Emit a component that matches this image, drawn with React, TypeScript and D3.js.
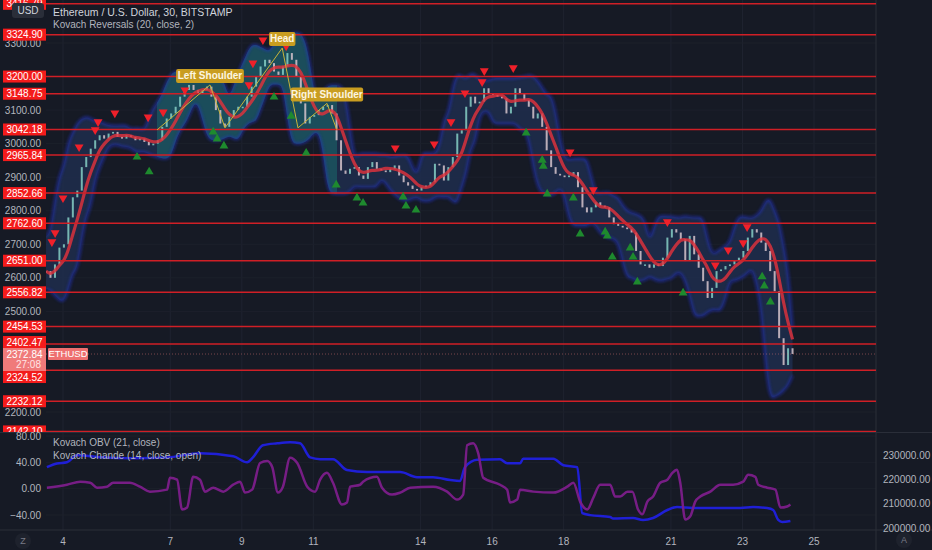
import * as d3 from 'd3'
import { FC } from 'react'

const WIDTH = 932
const HEIGHT = 550
const PLOT = { left: 46, right: 876, mainBottom: 432, paneTop: 433, paneBottom: 530 }
const FONT = '"Liberation Sans", Arial, sans-serif'
const BG = '#161a25'
const TEXT = '#b2b5be'

// 3-hour closes, starting at START_DAY
const START_DAY = 3.525
const STEP_DAY = 0.125
const closes = [
  2620, 2600, 2640, 2690, 2700, 2780, 2840, 2860, 2930, 2960,
  2985, 3010, 3025, 3015, 3030, 3035, 3020, 3015, 3025, 3020,
  3010, 3015, 3005, 2995, 3000, 3010, 3050, 3075, 3090, 3110,
  3140, 3160, 3175, 3160, 3150, 3160, 3170, 3140, 3100, 3060,
  3050, 3080, 3100, 3110, 3110, 3140, 3170, 3200, 3230, 3250,
  3240, 3215, 3205, 3230, 3270, 3250, 3200, 3120, 3060, 3080,
  3085, 3100, 3110, 3115, 3090, 3010, 2920, 2910, 2925, 2930,
  2905, 2895, 2930, 2945, 2925, 2920, 2915, 2925, 2935, 2905,
  2885, 2875, 2865, 2860, 2870, 2875, 2885, 2940, 2935, 2890,
  2930, 2960, 3030, 3040, 3110, 3140, 3120, 3125, 3165, 3150,
  3145, 3140, 3135, 3090, 3110, 3165, 3150, 3130, 3110, 3075,
  3090, 3050, 2980, 2930, 2910, 2905, 2900, 2905, 2915, 2870,
  2810, 2795, 2810, 2825, 2815, 2810, 2780, 2760, 2755, 2750,
  2745, 2735, 2680, 2640, 2640, 2630, 2640, 2635, 2660, 2720,
  2745, 2735, 2715, 2650, 2725, 2670, 2630, 2590, 2540, 2570,
  2620, 2625, 2635, 2640, 2650, 2660, 2680, 2720, 2745, 2735,
  2705, 2680, 2620, 2560, 2420, 2340, 2390, 2373,
]
const lastPrice = 2372.84

const levelPrices = [
  3416.79, 3324.9, 3200.0, 3148.75, 3042.18, 2965.84, 2852.66, 2762.6,
  2651.0, 2556.82, 2454.53, 2402.47, 2324.52, 2232.12, 2142.1,
]
const priceTicks = [3300, 3100, 3000, 2900, 2800, 2700, 2600, 2500, 2200]
const dayTicks = [4, 7, 9, 11, 14, 16, 18, 21, 23, 25]

// Kovach Reversals markers [day, price]
const downMarks: [number, number][] = [
  [3.69, 2707], [3.78, 2734], [4.0, 2838], [4.45, 2990], [4.9, 3041],
  [4.98, 3065], [5.45, 3091], [6.38, 3079], [6.8, 3094], [7.41, 3160],
  [9.2, 3175], [9.31, 3240], [9.59, 3309], [10.24, 3291], [13.29, 2987],
  [14.38, 2999], [14.85, 3065], [15.24, 3151], [15.72, 3184], [15.78, 3217],
  [16.59, 3226], [18.18, 2975], [18.83, 2862], [20.9, 2767], [22.24, 2638],
  [22.6, 2683], [23.02, 2704], [23.13, 2752],
]
const upMarks: [number, number][] = [
  [6.07, 2960], [6.41, 2916], [8.2, 3035], [8.31, 3014], [8.5, 2993],
  [9.9, 3139], [10.38, 3082], [10.8, 2972], [11.64, 2877], [12.22, 2838],
  [12.39, 2823], [13.51, 2841], [13.59, 2814], [13.87, 2802], [16.95, 3032],
  [17.4, 2951], [17.43, 2933], [17.54, 2850], [18.27, 2838], [18.46, 2731],
  [19.16, 2737], [19.22, 2725], [19.36, 2662], [19.86, 2689], [19.94, 2662],
  [20.06, 2588], [21.34, 2555], [23.55, 2603], [23.61, 2576], [23.78, 2528],
]

// head & shoulders zigzag
const patternPoints: [number, number][] = [
  [6.63, 3041], [8.11, 3175], [8.53, 3047], [10.13, 3285],
  [10.57, 3047], [11.38, 3120], [11.66, 3041],
]
const patternLabels = [
  { at: 1, text: 'Left Shoulder' },
  { at: 3, text: 'Head' },
  { at: 5, text: 'Right Shoulder' },
]

// lower pane
const obvTicks = [230000, 220000, 210000, 200000]
const chandeTicks = [80, 40, 0, -40]
const obv: [number, number][] = [
  [3.55, 225000], [3.83, 226500], [4.11, 227000], [4.39, 229900], [5.03, 229100],
  [5.96, 228700], [6.91, 229000], [7.83, 230700], [8.76, 229500], [9.15, 227000],
  [9.31, 229000], [9.59, 234000], [9.99, 234800], [10.35, 235200], [10.63, 234800],
  [10.91, 229000], [11.19, 228300], [11.55, 228300], [11.94, 223800], [12.5, 223000],
  [13.43, 223000], [13.9, 220900], [14.35, 220900], [14.83, 219700], [15.1, 219300],
  [15.24, 225000], [15.58, 228000], [16.22, 228300], [16.42, 226600], [16.78, 226600],
  [16.87, 228500], [17.71, 228500], [17.99, 225800], [18.38, 225000], [18.52, 206100],
  [18.74, 205300], [19.3, 204500], [19.38, 203900], [19.94, 204100], [20.22, 203300],
  [20.5, 204100], [20.9, 207400], [21.17, 208600], [21.62, 208200], [22.94, 208200],
  [23.3, 208600], [23.69, 208200], [23.86, 207400], [24.0, 203300], [24.11, 202500],
  [24.34, 202900],
]
const chande: [number, number][] = [
  [3.55, 1.5], [4.11, 6], [4.48, 10.6], [4.76, 9], [4.95, 1.5], [5.23, 3], [5.4, 9],
  [5.87, 9], [6.15, 3], [6.43, -4.5], [6.91, -1.5], [6.99, 16.6], [7.19, 13.6],
  [7.33, -31.7], [7.47, -28.7], [7.64, 18], [7.83, 13.6], [7.97, -4.5], [8.2, 1.5],
  [8.48, -4.5], [8.76, 6], [8.95, 10.6], [9.09, -6], [9.29, -1.5], [9.51, 39],
  [9.71, 42], [9.85, 33], [10.01, -6], [10.15, 3], [10.35, 47], [10.55, 39],
  [10.83, 3], [11.05, -4.5], [11.19, 13.6], [11.38, 24], [11.55, 9], [11.8, -24],
  [11.94, -21], [12.03, 3], [12.31, 6], [12.39, 10.6], [12.78, 18], [12.92, 1.5],
  [13.2, -9], [13.43, -6], [13.71, 1.5], [14.35, 3], [14.74, -4.5], [15.02, -16.6],
  [15.19, -9], [15.3, 66], [15.47, 69], [15.61, 54], [15.75, 16.6], [16.22, 6],
  [16.42, -1.5], [16.5, -21], [16.7, -16.6], [16.78, -1.5], [17.15, -4.5],
  [17.71, -6], [18.1, 3], [18.27, 9], [18.46, -19.6], [18.66, -31.7], [18.83, -13.6],
  [19.02, 6], [19.3, 6], [19.44, -12], [19.58, -12], [19.78, -4.5], [19.92, -4.5],
  [20.08, -31.7], [20.2, -39], [20.34, -19.6], [20.5, -12], [20.7, 9], [20.9, 13.6],
  [21.04, 24], [21.17, 28.7], [21.26, 9], [21.4, -47], [21.54, -42], [21.68, -19.6],
  [21.82, -12], [22.1, -4.5], [22.38, 6], [22.74, 6], [23.02, 10.6], [23.16, 21],
  [23.36, 18], [23.44, 6], [23.69, 1.5], [23.92, -1.5], [24.06, -28.7], [24.25, -27],
  [24.34, -24],
]

const fmt = d3.format('.2f')

const App: FC = () => {
  const x = d3.scaleLinear().domain([4, 25]).range([63, 814])
  const y = d3.scaleLinear().domain([2200, 3300]).range([412, 43])
  const yCh = d3.scaleLinear().domain([-40, 80]).range([515, 436])
  const yObv = d3.scaleLinear().domain([200000, 230000]).range([528, 455])

  const bars = closes.map((c, i) => ({
    day: START_DAY + i * STEP_DAY,
    open: i === 0 ? c : closes[i - 1],
    close: c,
  }))

  // trailing moving average
  const ma = closes.map((_, i) => {
    const w = closes.slice(Math.max(0, i - 4), i + 1)
    return [bars[i].day, d3.mean(w) as number] as [number, number]
  })

  // envelope band from local range
  const band = closes.map((_, i) => {
    const w = closes.slice(Math.max(0, i - 3), i + 4)
    const hi = d3.max(w) as number
    const lo = d3.min(w) as number
    const pad = 14 + 0.22 * (hi - lo)
    return { day: bars[i].day, hi: hi + pad, lo: lo - pad }
  })

  type B = { day: number; hi: number; lo: number }
  const bandArea = d3.area<B>().x((d) => x(d.day)).y0((d) => y(d.lo)).y1((d) => y(d.hi)).curve(d3.curveBasis)
  const bandTop = d3.line<B>().x((d) => x(d.day)).y((d) => y(d.hi)).curve(d3.curveBasis)
  const bandBottom = d3.line<B>().x((d) => x(d.day)).y((d) => y(d.lo)).curve(d3.curveBasis)

  const maLine = d3.line<[number, number]>().x((d) => x(d[0])).y((d) => y(d[1])).curve(d3.curveBasis)
  const zig = d3.line<[number, number]>().x((d) => x(d[0])).y((d) => y(d[1]))
  const obvLine = d3.line<[number, number]>().x((d) => x(d[0])).y((d) => yObv(d[1])).curve(d3.curveMonotoneX)
  const chLine = d3.line<[number, number]>().x((d) => x(d[0])).y((d) => yCh(d[1])).curve(d3.curveMonotoneX)

  const tri = d3.symbol(d3.symbolTriangle, 34)() as string
  const barW = 2

  const hsStart = x(patternPoints[0][0])
  const hsEnd = x(patternPoints[patternPoints.length - 1][0])

  // current price box and level labels pushed out of it
  const boxTop = y(lastPrice) - 6
  const boxBottom = boxTop + 23
  const levelLabelY = (p: number) => {
    const c = y(p)
    if (c + 6 > boxTop && c < y(lastPrice)) return boxTop - 6
    if (c - 6 < boxBottom && c >= y(lastPrice)) return boxBottom + 6
    return c
  }

  return (
    <svg
      width={WIDTH}
      height={HEIGHT}
      style={{ position: 'fixed', left: 0, top: 0, background: BG }}
      fontFamily={FONT}
    >
      <defs>
        <clipPath id='main'>
          <rect x={PLOT.left} y={0} width={PLOT.right - PLOT.left} height={PLOT.mainBottom} />
        </clipPath>
        <clipPath id='mainAxis'>
          <rect x={0} y={0} width={PLOT.right} height={PLOT.mainBottom} />
        </clipPath>
        <clipPath id='pane'>
          <rect x={PLOT.left} y={PLOT.paneTop} width={PLOT.right - PLOT.left} height={PLOT.paneBottom - PLOT.paneTop} />
        </clipPath>
        <clipPath id='hs'>
          <rect x={hsStart} y={0} width={hsEnd - hsStart} height={PLOT.mainBottom} />
        </clipPath>
        <filter id='glow' x='-5%' y='-5%' width='110%' height='110%'>
          <feGaussianBlur stdDeviation={1.4} />
        </filter>
      </defs>

      <rect width={WIDTH} height={HEIGHT} fill={BG} />

      {/* grid */}
      {dayTicks.map((d) => (
        <line key={d} x1={x(d)} x2={x(d)} y1={0} y2={PLOT.paneBottom} stroke='#1f2330' />
      ))}
      {priceTicks.map((p) => (
        <line key={p} x1={PLOT.left} x2={PLOT.right} y1={y(p)} y2={y(p)} stroke='#1c202b' />
      ))}
      {chandeTicks.map((v) => (
        <line key={v} x1={PLOT.left} x2={PLOT.right} y1={yCh(v)} y2={yCh(v)} stroke='#1c202b' />
      ))}
      <line x1={PLOT.right} x2={PLOT.right} y1={0} y2={HEIGHT} stroke='#2a2e39' />
      <line x1={0} x2={WIDTH} y1={PLOT.paneBottom} y2={PLOT.paneBottom} stroke='#2a2e39' />
      <line x1={0} x2={WIDTH} y1={PLOT.mainBottom + 0.5} y2={PLOT.mainBottom + 0.5} stroke='#2a2e39' />

      <g clipPath='url(#main)'>
        {/* envelope */}
        <path d={bandArea(band) as string} fill='#1f2e50' opacity={0.8} />
        <path d={bandArea(band) as string} fill='#1b5660' opacity={0.8} clipPath='url(#hs)' />
        <g filter='url(#glow)' opacity={0.7}>
          <path d={bandTop(band) as string} fill='none' stroke='#2030c0' strokeWidth={2.2} />
          <path d={bandBottom(band) as string} fill='none' stroke='#2030c0' strokeWidth={2.2} />
        </g>

        {/* candles */}
        {bars.map((b, i) => {
          const top = y(Math.max(b.open, b.close))
          const bot = y(Math.min(b.open, b.close))
          return (
            <rect
              key={i}
              x={x(b.day) - barW / 2}
              y={top}
              width={barW}
              height={Math.max(1.5, bot - top)}
              fill={b.close >= b.open ? '#86cfc6' : '#d6c4cc'}
              opacity={0.85}
            />
          )
        })}

        {/* moving average */}
        <path
          d={maLine(ma) as string}
          fill='none'
          stroke='#e0323c'
          strokeWidth={3.2}
          opacity={0.82}
          strokeLinejoin='round'
        />

        {/* levels */}
        {levelPrices.map((p) => (
          <line key={p} x1={PLOT.left} x2={PLOT.right} y1={y(p)} y2={y(p)} stroke='#d01f26' strokeWidth={1.5} />
        ))}
        <line
          x1={PLOT.left}
          x2={PLOT.right}
          y1={y(lastPrice)}
          y2={y(lastPrice)}
          stroke='#f07a7a'
          strokeDasharray='1 2'
          opacity={0.45}
        />

        {/* pattern */}
        <path d={zig(patternPoints) as string} fill='none' stroke='#c8b43a' strokeWidth={1} />

        {/* reversal markers */}
        {downMarks.map(([d, p], i) => (
          <path key={'d' + i} d={tri} transform={`translate(${x(d)},${y(p)}) rotate(180)`} fill='#f0202a' />
        ))}
        {upMarks.map(([d, p], i) => (
          <path key={'u' + i} d={tri} transform={`translate(${x(d)},${y(p)})`} fill='#1e8a2e' />
        ))}

        {patternLabels.map((l) => {
          const [d, p] = patternPoints[l.at]
          const w = l.text.length * 4.6 + 8
          const cx = x(d)
          const by = y(p) - 2
          return (
            <g key={l.text}>
              <rect x={cx - w / 2} y={by - 14} width={w} height={14} rx={2} fill='#c99d20' />
              <text x={cx} y={by - 3.8} textAnchor='middle' fontSize={10} fill='#fdf6e0' fontWeight={600}>
                {l.text}
              </text>
            </g>
          )
        })}
      </g>

      {/* lower pane */}
      <g clipPath='url(#pane)'>
        <path d={obvLine(obv) as string} fill='none' stroke='#1f1fd6' strokeWidth={2.5} />
        <path d={chLine(chande) as string} fill='none' stroke='#7c1d8a' strokeWidth={2.5} opacity={0.95} />
      </g>

      {/* left price axis */}
      <g clipPath='url(#mainAxis)'>
        {priceTicks.map((p) => (
          <text key={p} x={41} y={y(p)} dy='0.35em' textAnchor='end' fontSize={10} fill={TEXT}>
            {fmt(p)}
          </text>
        ))}
        {levelPrices.map((p) => (
          <g key={p}>
            <rect x={3} y={levelLabelY(p) - 6} width={43} height={12} fill='#f41b1b' />
            <text x={24.5} y={levelLabelY(p)} dy='0.35em' textAnchor='middle' fontSize={10} fill='#ffffff'>
              {fmt(p)}
            </text>
          </g>
        ))}
        <rect x={3} y={boxTop} width={43} height={23} fill='#f07a7a' />
        <text x={24.5} y={y(lastPrice)} dy='0.35em' textAnchor='middle' fontSize={10} fill='#ffffff'>
          {fmt(lastPrice)}
        </text>
        <text x={41} y={y(lastPrice) + 10} dy='0.35em' textAnchor='end' fontSize={10} fill='#ffe5e5'>
          27:08
        </text>
        <rect x={48} y={boxTop} width={40} height={12} rx={1} fill='#ee7070' />
        <text x={68} y={y(lastPrice)} dy='0.35em' textAnchor='middle' fontSize={9.5} fill='#ffffff'>
          ETHUSD
        </text>
      </g>

      {/* lower pane axes */}
      {chandeTicks.map((v) => (
        <text key={v} x={41} y={yCh(v)} dy='0.35em' textAnchor='end' fontSize={10} fill={TEXT}>
          {fmt(v)}
        </text>
      ))}
      {obvTicks.map((v) => (
        <text key={v} x={883} y={yObv(v)} dy='0.35em' fontSize={10} fill={TEXT}>
          {fmt(v)}
        </text>
      ))}
      <text x={53} y={446} fontSize={10} fill={TEXT}>Kovach OBV (21, close)</text>
      <text x={53} y={459} fontSize={10} fill={TEXT}>Kovach Chande (14, close, open)</text>

      {/* time axis */}
      {dayTicks.map((d) => (
        <text key={d} x={x(d)} y={541} dy='0.35em' textAnchor='middle' fontSize={10} fill={TEXT}>
          {d}
        </text>
      ))}
      <circle cx={23} cy={541} r={8} fill='#1e222d' />
      <text x={23} y={541} dy='0.35em' textAnchor='middle' fontSize={9} fill='#787b86'>Z</text>
      <circle cx={904} cy={540} r={8} fill='#1e222d' />
      <text x={904} y={540} dy='0.35em' textAnchor='middle' fontSize={9} fill='#787b86'>A</text>

      {/* header */}
      <rect x={12} y={3} width={32} height={15} rx={3} fill='#2a2e39' />
      <text x={28} y={10.5} dy='0.35em' textAnchor='middle' fontSize={10} fill='#d1d4dc'>USD</text>
      <text x={53} y={16} fontSize={10.5} fill='#d1d4dc'>Ethereum / U.S. Dollar, 30, BITSTAMP</text>
      <text x={53} y={28} fontSize={10} fill={TEXT}>Kovach Reversals (20, close, 2)</text>
    </svg>
  )
}

export default App
